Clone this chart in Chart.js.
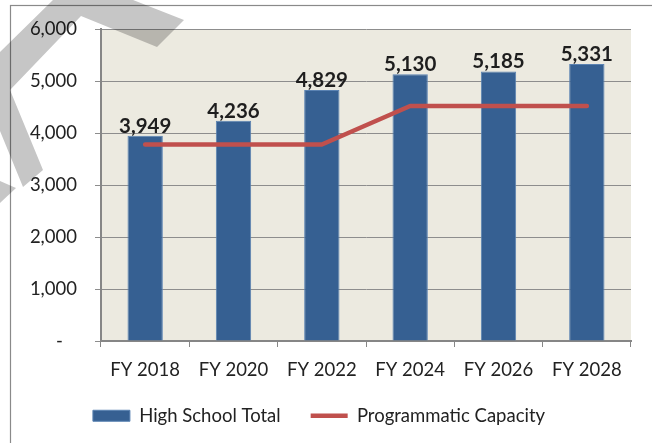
<!DOCTYPE html>
<html>
<head>
<meta charset="utf-8">
<script src="https://cdn.jsdelivr.net/npm/chart.js@4/dist/chart.umd.min.js"></script>
<style>
  html, body { margin: 0; padding: 0; background: #ffffff; }
  #wrap { width: 652px; height: 443px; position: relative; }
</style>
</head>
<body>
<div id="wrap"><canvas id="c" width="652" height="443"></canvas></div>
<script>
// Enrollment projection vs. programmatic capacity
const years = ['FY 2018', 'FY 2020', 'FY 2022', 'FY 2024', 'FY 2026', 'FY 2028'];
const highSchoolTotal = [3949, 4236, 4829, 5130, 5185, 5331];
const programmaticCapacity = [3780, 3780, 3780, 4520, 4520, 4520];
const yTicks = [0, 1000, 2000, 3000, 4000, 5000, 6000];

const FONT = 'Lato, "Open Sans", "DejaVu Sans", sans-serif';
const fmt = v => v.toLocaleString('en-US');

// Beige plot background
const plotBackground = {
  id: 'plotBackground',
  beforeDraw(chart) {
    const { ctx, chartArea: a } = chart;
    ctx.save();
    ctx.fillStyle = '#ECEAE0';
    ctx.fillRect(a.left, a.top, a.right - a.left, a.bottom - a.top);
    ctx.restore();
  }
};

// Value labels above each bar
const barValues = {
  id: 'barValues',
  afterDatasetsDraw(chart) {
    const { ctx } = chart;
    const idx = chart.data.datasets.findIndex(d => d.type === 'bar');
    const meta = chart.getDatasetMeta(idx);
    const values = chart.data.datasets[idx].data;
    ctx.save();
    ctx.font = 'bold 20.5px ' + FONT;
    ctx.fillStyle = '#1e1e1e';
    ctx.textAlign = 'center';
    ctx.textBaseline = 'alphabetic';
    meta.data.forEach((bar, i) => {
      ctx.fillText(fmt(values[i]), bar.x, bar.y - 3);
    });
    ctx.restore();
  }
};

// Outer frame and the corner of the draft stamp
const stampShapes = [
  [[0, 52], [55, -2], [128, -2], [184, 20], [157, 47], [81, 16], [10, 90], [43, 170], [23, 187], [0, 131]],
  [[0, 181], [16, 188], [0, 203]]
];
const frameAndStamp = {
  id: 'frameAndStamp',
  afterDraw(chart) {
    const { ctx } = chart;
    ctx.save();
    ctx.strokeStyle = '#8a8a8a';
    ctx.lineWidth = 1.2;
    ctx.strokeRect(10.5, 5.5, 700, 500);
    ctx.globalCompositeOperation = 'multiply';
    ctx.fillStyle = 'rgb(198,198,198)';
    stampShapes.forEach(poly => {
      ctx.beginPath();
      poly.forEach(([x, y], i) => (i ? ctx.lineTo(x, y) : ctx.moveTo(x, y)));
      ctx.closePath();
      ctx.fill();
    });
    ctx.restore();
  }
};

new Chart(document.getElementById('c'), {
  data: {
    labels: years,
    datasets: [
      {
        type: 'line',
        label: 'Programmatic Capacity',
        data: programmaticCapacity,
        borderColor: '#C0504D',
        backgroundColor: '#C0504D',
        borderWidth: 4.5,
        borderCapStyle: 'round',
        borderJoinStyle: 'round',
        pointRadius: 0,
        pointHoverRadius: 0,
        pointStyle: 'line',
        tension: 0,
        order: 1
      },
      {
        type: 'bar',
        label: 'High School Total',
        data: highSchoolTotal,
        backgroundColor: '#366092',
        borderColor: '#5A82B2',
        borderWidth: 1,
        barPercentage: 0.4,
        categoryPercentage: 1,
        pointStyle: 'rect',
        order: 2
      }
    ]
  },
  options: {
    responsive: false,
    animation: false,
    devicePixelRatio: 1,
    layout: { padding: { left: 7, right: 21, top: 29, bottom: 8 } },
    plugins: {
      tooltip: { enabled: false },
      legend: {
        position: 'bottom',
        reverse: true,
        labels: {
          usePointStyle: true,
          pointStyleWidth: 37,
          boxHeight: 11,
          padding: 30,
          color: '#222222',
          font: { family: FONT, size: 18.5 }
        }
      }
    },
    scales: {
      x: {
        offset: true,
        grid: { display: true, drawOnChartArea: false, offset: true, tickLength: 6, color: '#868686', lineWidth: 1 },
        border: { display: true, color: '#868686', width: 2 },
        ticks: { color: '#222222', padding: 12, maxRotation: 0, font: { family: FONT, size: 18.5 } },
        afterFit(scale) { scale.height = 35.5; }
      },
      y: {
        min: 0,
        max: 6000,
        afterBuildTicks(scale) { scale.ticks = yTicks.map(v => ({ value: v })); },
        grid: { color: '#8d8d8d', lineWidth: 1, tickLength: 6 },
        border: { display: true, color: '#868686', width: 2 },
        ticks: {
          color: '#222222',
          padding: 18,
          font: { family: FONT, size: 18.5 },
          callback: v => (v === 0 ? '-   ' : fmt(v))
        },
        afterFit(scale) { scale.width = 94; }
      }
    }
  },
  plugins: [plotBackground, barValues, frameAndStamp]
});
</script>
</body>
</html>
